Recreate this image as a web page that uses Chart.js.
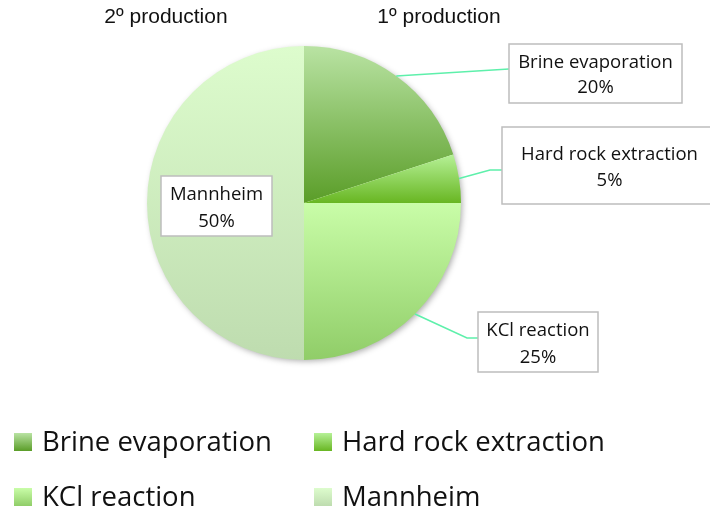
<!DOCTYPE html>
<html><head><meta charset="utf-8">
<script src="https://cdn.jsdelivr.net/npm/chart.js@4.4.0/dist/chart.umd.min.js"></script>
<style>html,body{margin:0;padding:0;background:#fff;}#wrap{position:relative;width:710px;height:509px;}</style>
</head><body><div id="wrap"><canvas id="c" width="710" height="509"></canvas></div>
<script>
// ---- data ----
const categories = ['Brine evaporation', 'Hard rock extraction', 'KCl reaction', 'Mannheim'];
const shares = [20, 5, 25, 50];
const groupTitles = ['2º production', '1º production'];

// ---- styles ----
const gradTop = ['#b9e3a3', '#b6f197', '#c9fda8', '#ddfccd'];
const gradBottom = ['#5a9d28', '#68b622', '#90cd68', '#bedcaf'];
const LINE_COLOR = '#5ef0ab';
const LABEL_FONT = '"Open Sans", sans-serif';

// label layout (box: x, y, w, h ; path points after the arc anchor)
const labelLayout = [
  {box: [509, 44, 173, 59], path: [[509, 69]], lines: [68, 93], cx: 595.5},
  {box: [502, 127, 215, 77], path: [[490, 170], [502, 170]], lines: [160, 186], cx: 609.5},
  {box: [478, 312, 120, 60], path: [[467, 338], [478, 338]], lines: [336, 363], cx: 538},
  {box: [161, 176, 111, 60], path: null, lines: [200, 227], cx: 216.5}
];

function arcBox(arc) {
  const p = arc.getProps(['x', 'y', 'outerRadius', 'startAngle', 'endAngle'], true);
  let ymin = p.y, ymax = p.y;
  for (let k = 0; k <= 90; k++) {
    const a = p.startAngle + (p.endAngle - p.startAngle) * k / 90;
    const py = p.y + p.outerRadius * Math.sin(a);
    ymin = Math.min(ymin, py); ymax = Math.max(ymax, py);
  }
  return {p, ymin, ymax};
}

const deco = {
  id: 'deco',
  beforeDatasetsDraw(chart) {
    const ctx = chart.ctx;
    const meta = chart.getDatasetMeta(0);
    meta.data.forEach((arc, i) => {
      const {ymin, ymax} = arcBox(arc);
      const g = ctx.createLinearGradient(0, ymin, 0, ymax);
      g.addColorStop(0, gradTop[i]);
      g.addColorStop(1, gradBottom[i]);
      arc.options.backgroundColor = g;
    });
    const a = meta.data[0];
    ctx.save();
    ctx.beginPath();
    ctx.arc(a.x, a.y, a.outerRadius - 1, 0, Math.PI * 2);
    ctx.shadowColor = 'rgba(0,0,0,0.35)';
    ctx.shadowBlur = 6;
    ctx.shadowOffsetX = 2;
    ctx.shadowOffsetY = 2;
    ctx.fillStyle = '#ffffff';
    ctx.fill();
    ctx.restore();
  },
  afterDatasetsDraw(chart) {
    const ctx = chart.ctx;
    const meta = chart.getDatasetMeta(0);
    const total = shares.reduce((s, v) => s + v, 0);
    // titles
    ctx.save();
    ctx.fillStyle = '#111';
    ctx.font = '21px "Liberation Sans", Arial, sans-serif';
    ctx.textAlign = 'center';
    ctx.textBaseline = 'alphabetic';
    ctx.fillText(groupTitles[0], 166, 23);
    ctx.fillText(groupTitles[1], 439, 23);
    ctx.restore();

    // data labels
    meta.data.forEach((arc, i) => {
      const L = labelLayout[i];
      const p = arc.getProps(['x', 'y', 'outerRadius', 'startAngle', 'endAngle'], true);
      if (L.path) {
        const mid = (p.startAngle + p.endAngle) / 2;
        ctx.save();
        ctx.strokeStyle = LINE_COLOR;
        ctx.lineWidth = 1.6;
        ctx.beginPath();
        ctx.moveTo(p.x + p.outerRadius * Math.cos(mid), p.y + p.outerRadius * Math.sin(mid));
        L.path.forEach(pt => ctx.lineTo(pt[0], pt[1]));
        ctx.stroke();
        ctx.restore();
      }
      const [bx, by, bw, bh] = L.box;
      ctx.save();
      ctx.fillStyle = '#fff';
      ctx.fillRect(bx, by, bw, bh);
      ctx.strokeStyle = '#bdbdbd';
      ctx.lineWidth = 1.5;
      ctx.strokeRect(bx, by, bw, bh);
      ctx.fillStyle = '#111';
      ctx.font = '18.5px ' + LABEL_FONT;
      ctx.textAlign = 'center';
      ctx.fillText(categories[i], L.cx, L.lines[0]);
      ctx.fillText(Math.round(shares[i] / total * 100) + '%', L.cx, L.lines[1]);
      ctx.restore();
    });

    // legend
    const cols = [14, 314];
    const rows = [433, 488];
    ctx.save();
    ctx.font = '27.5px ' + LABEL_FONT;
    ctx.textAlign = 'left';
    categories.forEach((c, i) => {
      const sx = cols[i % 2], sy = rows[Math.floor(i / 2)];
      const g = ctx.createLinearGradient(0, sy, 0, sy + 18);
      g.addColorStop(0, gradTop[i]);
      g.addColorStop(1, gradBottom[i]);
      ctx.fillStyle = g;
      ctx.fillRect(sx, sy, 18, 18);
      ctx.fillStyle = '#111';
      ctx.fillText(c, sx + 28, sy + 18);
    });
    ctx.restore();
  }
};

new Chart(document.getElementById('c'), {
  type: 'pie',
  data: {
    labels: categories,
    datasets: [{data: shares, backgroundColor: gradTop, borderWidth: 0}]
  },
  options: {
    responsive: false,
    animation: false,
    layout: {padding: {top: 46, bottom: 149, left: 147, right: 249}},
    plugins: {legend: {display: false}, tooltip: {enabled: false}, title: {display: false}}
  },
  plugins: [deco]
});
</script>
</body></html>
